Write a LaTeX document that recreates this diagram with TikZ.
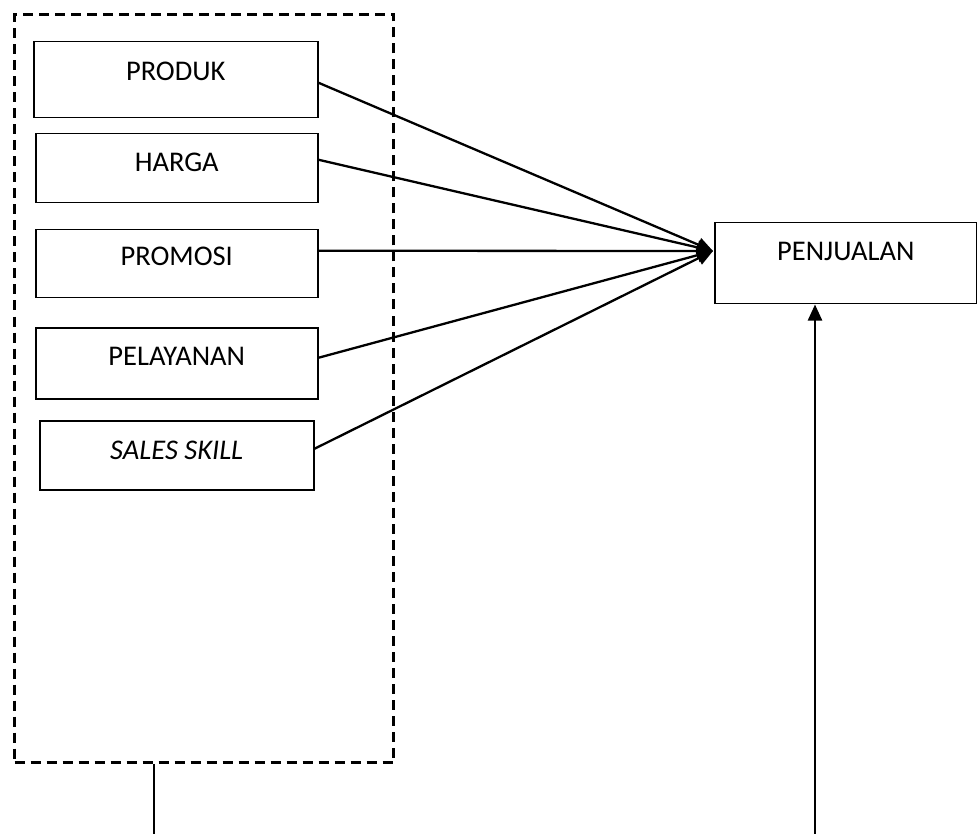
\documentclass[tikz,border=0pt]{standalone}
\usepackage{fontspec}
\setmainfont{Carlito}
\usetikzlibrary{arrows.meta, positioning}

\begin{document}
\begin{tikzpicture}[x=1pt, y=-1pt,
  box/.style={draw, line width=1.5pt, inner sep=0pt, anchor=north west},
  lbl/.style={font=\fontsize{28.5}{34}\selectfont, anchor=base, inner sep=0pt},
  arr/.style={-{Triangle[length=16pt, width=14pt]}, line width=2.3pt}
]
\useasboundingbox (0,0) rectangle (977,834);

% dashed group of the five factors
\node[box, line width=3pt, dash pattern=on 10pt off 6pt,
  minimum width=379pt, minimum height=748pt] (group) at (13,13) {};

\node[box, minimum width=284pt, minimum height=76pt] (produk) at (33,41) {};
\node[box, minimum width=282pt, minimum height=69pt] (harga) at (35,133) {};
\node[box, minimum width=282pt, minimum height=68pt] (promosi) at (35,229) {};
\node[box, minimum width=282pt, minimum height=71pt] (pelayanan) at (35,327) {};
\node[box, minimum width=274pt, minimum height=69pt] (sales) at (39,420) {};
\node[box, minimum width=262pt, minimum height=81pt] (penjualan) at (714,222) {};

\node[lbl] (tprodukt) at ([yshift=-40pt]produk.north) {PRODUK};
\node[lbl] (tharga) at ([yshift=-39pt]harga.north) {HARGA};
\node[lbl] (tpromosi) at ([yshift=-37pt]promosi.north) {PROMOSI};
\node[lbl] (tpelayanan) at ([yshift=-38pt]pelayanan.north) {PELAYANAN};
\node[lbl] (tsales) at ([yshift=-39pt]sales.north) {\itshape SALES SKILL};
\node[lbl] (tpenjualan) at ([yshift=-39pt]penjualan.north) {PENJUALAN};

\coordinate (tip) at (713,251);
\draw[arr] ([yshift=-3pt]produk.east) -- (tip);
\draw[arr] ([yshift=8.5pt]harga.east) -- (tip);
\draw[arr] ([yshift=13pt]promosi.east) -- (tip);
\draw[arr] ([yshift=5.5pt]pelayanan.east) -- (tip);
\draw[arr] ([yshift=6.5pt]sales.east) -- (tip);

% lines running off the bottom edge
\coordinate (bleft) at (154,834);
\coordinate (bright) at (815,834);
\draw[line width=2.3pt] (group.south -| bleft) -- (bleft);
\draw[arr] (bright) -- (bright |- penjualan.south);
\end{tikzpicture}
\end{document}
